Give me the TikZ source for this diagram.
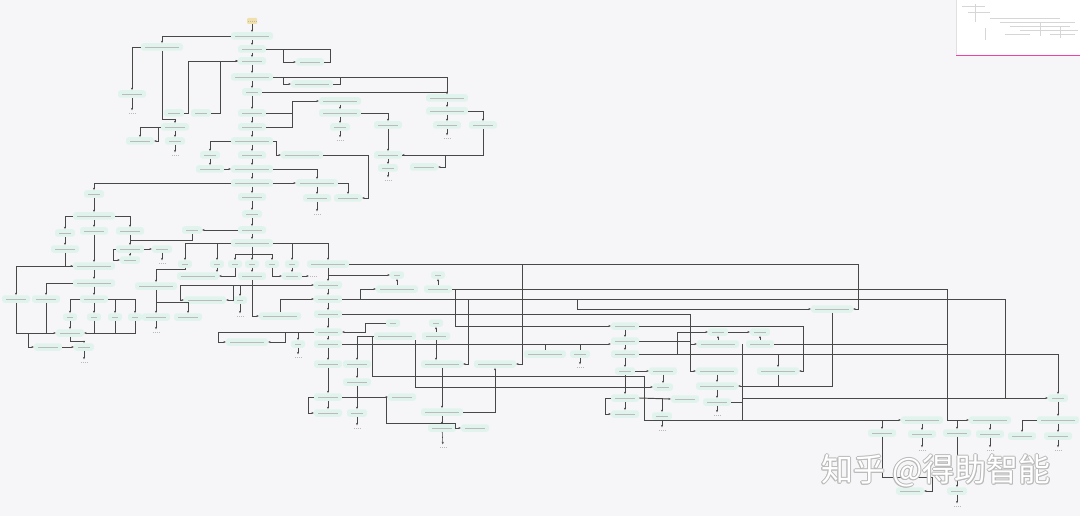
\documentclass[tikz,border=0pt]{standalone}
\usepackage{fontspec}
\newfontfamily\cjkfont{Noto Sans CJK SC}
\usetikzlibrary{arrows.meta}
\definecolor{bgc}{RGB}{246,246,248}
\definecolor{mint}{RGB}{224,244,237}
\definecolor{lnc}{RGB}{72,72,72}
\definecolor{stc}{RGB}{242,224,170}
\begin{document}
\begin{tikzpicture}[x=1pt,y=-1pt,
  txt/.style={draw=black!27, line width=0.95pt, dash pattern=on 1.5pt off 0.5pt},
  nbox/.style={rounded corners=2.5pt, fill=mint, minimum height=7.5pt, minimum width=28pt, inner sep=0pt,
    path picture={\draw[txt] ([xshift=4pt]path picture bounding box.west) -- ([xshift=-4pt]path picture bounding box.east);}},
  nwide/.style={nbox, minimum width=42pt},
  nsmall/.style={nbox, minimum width=20pt},
  ntiny/.style={nbox, minimum width=14pt},
  nend/.style={fill=bgc, minimum width=8pt, minimum height=5pt, inner sep=0pt,
    path picture={\draw[txt] ([xshift=0.8pt]path picture bounding box.west) -- ([xshift=-0.8pt]path picture bounding box.east);}},
  nstart/.style={nend, fill=stc, rounded corners=1pt, minimum width=10pt, minimum height=6pt},
  ln/.style={draw=lnc, line width=0.55pt, -{Stealth[length=2.4pt,width=2pt]}},
  lk/.style={draw=lnc, line width=0.55pt},
  th/.style={line width=0.95pt},
  wm/.style={anchor=west, inner sep=0pt, font=\cjkfont\fontsize{32}{32}\selectfont}
]
\useasboundingbox (0,0) rectangle (1080,516);
\fill[bgc] (0,0) rectangle (1080,516);

% ---------- minimap ----------
\fill[white] (956,0) rectangle (1080,55);
\draw[black!12] (956,0) -- (956,55);
\draw[magenta!75, line width=1.6pt] (956,55.5) -- (1080,55.5);
\begin{scope}[black!16, line width=0.35pt]
\draw (962,6) -- (985,6) (968,12) -- (990,12) (975,4) -- (975,22) (990,18) -- (1060,18)
      (1000,22) -- (1075,22) (1010,26) -- (1070,26) (1020,30) -- (1078,30) (1040,22) -- (1040,36)
      (1005,34) -- (1030,34) (1050,34) -- (1075,34) (985,28) -- (985,40) (1060,26) -- (1060,38);
\end{scope}

% ---------- spine ----------
\node[nstart] (s0) at (252,21) {};
\node[nwide] (n1) at (252,36) {};
\node[nbox] (n2) at (252,49) {};
\node[nbox] (n3) at (252,61) {};
\node[nwide] (n4) at (252,77) {};
\node[nsmall] (n5) at (252,92) {};
\node[nbox] (n6) at (252,113) {};
\node[nbox] (n7) at (252,127) {};
\node[nwide] (n8) at (252,141) {};
\node[nbox] (n9) at (252,155) {};
\node[nwide] (n10) at (252,169) {};
\node[nwide] (n11) at (252,183) {};
\node[nbox] (n12) at (252,197) {};
\node[nsmall] (n13) at (252,214) {};
\node[nbox] (n14) at (252,230) {};
\node[nwide] (n15) at (252,243) {};

% ---------- top left ----------
\node[nwide] (K1) at (162,47) {};
\node[nbox] (K2) at (132,94) {};
\node[nend] (K3) at (132,113) {};
\node[nsmall] (L2a) at (174,113) {};
\node[nsmall] (L2b) at (201,113) {};
\node[nbox] (L3) at (175,127) {};
\node[nsmall] (L4) at (175,141) {};
\node[nend] (L5) at (175,155) {};
\node[nbox] (Pa) at (140,141) {};

% ---------- top right ----------
\node[nbox] (R1) at (310,62) {};
\node[nwide] (R2) at (312,84) {};
\node[nwide] (T1) at (447,98) {};
\node[nwide] (T2) at (447,111) {};
\node[nbox] (T3) at (447,125) {};
\node[nend] (T4) at (447,138) {};
\node[nbox] (T5) at (483,125) {};
\node[nwide] (S1) at (340,101) {};
\node[nwide] (S2) at (340,113) {};
\node[nsmall] (S3) at (340,127) {};
\node[nend] (S4) at (340,140) {};
\node[nbox] (S5) at (388,125) {};
\node[nbox] (U1) at (388,155) {};
\node[nsmall] (U2) at (388,168) {};
\node[nend] (U3) at (388,180) {};
\node[nbox] (U4) at (424,167) {};
\node[nsmall] (V1) at (210,155) {};
\node[nbox] (V2) at (210,169) {};
\node[nwide] (W1) at (302,155) {};
\node[nwide] (X1) at (317,183) {};
\node[nbox] (X2) at (348,198) {};
\node[nbox] (X3) at (317,198) {};
\node[nend] (X4) at (317,214) {};

% ---------- middle left ----------
\node[nsmall] (Y1) at (94,194) {};
\node[nwide] (Y2) at (94,216) {};
\node[nsmall] (Y3) at (65,233) {};
\node[nbox] (Y4) at (65,249) {};
\node[nbox] (Y5) at (94,231) {};
\node[nbox] (Y6) at (130,231) {};
\node[nbox] (Y7) at (130,249) {};
\node[nsmall] (Y8) at (130,260) {};
\node[nsmall] (Y9) at (162,249) {};
\node[nend] (Y10) at (162,263) {};
\node[nsmall] (Z1) at (192,230) {};

\node[ntiny] (a1) at (185,264) {};
\node[ntiny] (a2) at (217,264) {};
\node[ntiny] (a4) at (235,264) {};
\node[ntiny] (a5) at (252,264) {};
\node[ntiny] (a6) at (272,264) {};
\node[ntiny] (a7) at (292,264) {};
\node[nwide] (c1) at (198,276) {};
\node[nbox] (c2) at (252,276) {};
\node[nsmall] (c3) at (292,276) {};
\node[nend] (c4) at (313,276) {};
\node[nwide] (d1) at (156,286) {};
\node[nbox] (d2) at (156,317) {};
\node[nbox] (d4) at (188,317) {};
\node[nend] (d3) at (156,332) {};
\node[nwide] (g1) at (205,300) {};
\node[ntiny] (g2) at (240,300) {};
\node[nend] (g2b) at (240,316) {};
\node[nwide] (g3) at (280,316) {};
\node[nwide] (h1) at (247,342) {};
\node[ntiny] (h2) at (298,344) {};
\node[nend] (h3) at (298,357) {};

\node[nwide] (e1) at (94,266) {};
\node[nwide] (e2) at (94,283) {};
\node[nbox] (e3) at (94,299) {};
\node[ntiny] (e4) at (94,317) {};
\node[nbox] (e5) at (16,299) {};
\node[nbox] (e6) at (46,299) {};
\node[ntiny] (e7) at (70,317) {};
\node[ntiny] (e8) at (115,317) {};
\node[ntiny] (e9) at (135,317) {};
\node[nbox] (f1) at (70,333) {};
\node[nsmall] (f2) at (84,347) {};
\node[nend] (f3) at (84,362) {};
\node[nbox] (f4) at (48,347) {};

% ---------- b column ----------
\node[nwide] (b1) at (328,264) {};
\node[nbox] (b2) at (328,285) {};
\node[nbox] (b3) at (328,299) {};
\node[nbox] (b4) at (328,314) {};
\node[nbox] (b5) at (328,332) {};
\node[nbox] (b6) at (328,344) {};
\node[nbox] (b7) at (328,364) {};
\node[nbox] (l1) at (328,397) {};
\node[nbox] (l3) at (328,413) {};
\node[ntiny] (i1) at (397,275) {};
\node[ntiny] (i2) at (438,275) {};
\node[nwide] (i3) at (397,289) {};
\node[nbox] (i4) at (438,289) {};
\node[ntiny] (j1) at (393,323) {};
\node[ntiny] (j2) at (436,323) {};
\node[nwide] (j3) at (395,336) {};
\node[nbox] (j4) at (436,336) {};
\node[nbox] (k1) at (357,364) {};
\node[nwide] (k2) at (442,364) {};
\node[nwide] (k3) at (495,364) {};
\node[nbox] (k4) at (357,382) {};
\node[nbox] (l2) at (402,397) {};
\node[nsmall] (l4) at (357,413) {};
\node[nend] (l5) at (357,428) {};
\node[nwide] (k5) at (442,412) {};
\node[nbox] (k6) at (442,428) {};
\node[nbox] (k7) at (475,428) {};
\node[nend] (k8) at (443,447) {};

% ---------- right ----------
\node[nwide] (q1) at (832,309) {};
\node[nbox] (m1) at (625,326) {};
\node[nbox] (m2) at (625,341) {};
\node[nbox] (m3) at (625,354) {};
\node[nsmall] (m4) at (625,371) {};
\node[nbox] (m5) at (625,398) {};
\node[nbox] (m6) at (625,414) {};
\node[nwide] (o1) at (545,354) {};
\node[nsmall] (o2) at (580,354) {};
\node[nend] (o3) at (580,367) {};
\node[nsmall] (p1) at (718,332) {};
\node[nsmall] (p2) at (760,332) {};
\node[nwide] (p3) at (718,344) {};
\node[nbox] (p4) at (760,344) {};
\node[nbox] (p5) at (663,371) {};
\node[nwide] (p6) at (717,371) {};
\node[nwide] (p7) at (778,371) {};
\node[nsmall] (p8) at (663,387) {};
\node[nwide] (p9) at (717,386) {};
\node[nbox] (p10) at (685,399) {};
\node[nbox] (p11) at (717,402) {};
\node[nend] (p12) at (717,415) {};
\node[nsmall] (p13) at (662,416) {};
\node[nend] (p14) at (662,430) {};

\node[nsmall] (r0) at (1058,398) {};
\node[nwide] (r1) at (1058,420) {};
\node[nbox] (r2) at (1058,436) {};
\node[nend] (r3) at (1058,450) {};
\node[nwide] (s1) at (922,420) {};
\node[nwide] (s2) at (990,420) {};
\node[nbox] (t1) at (882,433) {};
\node[nbox] (t2) at (922,434) {};
\node[nbox] (t3) at (957,433) {};
\node[nbox] (t4) at (990,434) {};
\node[nbox] (t5) at (1022,436) {};
\node[nend] (ea) at (922,450) {};
\node[nend] (eb) at (990,450) {};
\node[nbox] (u1) at (910,491) {};
\node[nsmall] (u2) at (957,491) {};
\node[nend] (u2e) at (957,506) {};

% ---------- straight vertical links ----------
\foreach \a/\b in {s0/n1,n1/n2,n2/n3,n3/n4,n4/n5,n5/n6,n6/n7,n7/n8,n8/n9,n9/n10,n10/n11,n11/n12,n12/n13,n13/n14,n14/n15,
  K2/K3,L3/L4,L4/L5,T1/T2,T2/T3,T3/T4,S1/S2,S2/S3,S3/S4,S5/U1,U1/U2,U2/U3,V1/V2,X1/X3,X3/X4,
  Y1/Y2,Y2/Y5,Y5/e1,e1/e2,e2/e3,e3/e4,Y3/Y4,Y6/Y7,Y7/Y8,Y9/Y10,d1/d2,d2/d3,a5/c2,a7/c3,f2/f3,g2/g2b,h2/h3,e7/f1,
  b1/b2,b2/b3,b3/b4,b4/b5,b5/b6,b6/b7,b7/l1,l1/l3,i3/i1,i4/i2,j4/j2,k1/k4,k4/l4,l4/l5,k2/k5,k5/k6,k6/k8,
  m1/m2,m2/m3,m3/m4,m4/m5,m5/m6,o2/o3,p3/p1,p4/p2,p5/p8,p6/p9,p9/p11,p11/p12,p13/p14,
  r0/r1,r1/r2,r2/r3,s1/t2,t2/ea,s2/t4,t4/eb,t3/u2,u2/u2e}
  \draw[ln] (\a) -- (\b);

% ---------- top area ----------
\draw[ln] (n1.west) -| (K1.north);
\draw[ln] (K1.south) -- (162,119) -| (L3.north);
\draw[ln] (K1.west) -| (K2.north);
\draw[ln] (L2a.east) -- (188,113) |- (n3.west);
\draw[ln] (L2b.east) -- (220,113) |- (n3.west);
\draw[ln] (L3.west) -| (Pa.north);
\draw[ln] (158,127) |- (Pa.east);
\draw[ln] (n2.east) -- (283,49) |- (R1.west);
\draw[lk] (R1.east) -- (330,62) -- (330,49) -- (283,49);
\draw[ln] (n4.east) -| (T1.north);
\draw[ln] (n5.east) -| (T1.north);
\draw[ln] (283,77) |- (R2.west);
\draw[lk] (R2.east) -- (340,84) -- (340,77);
\draw[ln] (n6.east) -- (292,113) |- (S1.west);
\draw[lk] (n7.east) -| (292,113);
\draw[ln] (S2.east) -| (S5.north);
\draw[ln] (T2.east) -| (T5.north);
\draw[ln] (T5.south) |- (U1.east);
\draw[ln,th] (U1.east) -- (445,155) |- (U4.east);
\draw[ln] (n8.west) -| (V1.north);
\draw[ln] (n8.east) -- (276,141) |- (W1.west);
\draw[ln] (V2.east) -- (n10.west);
\draw[ln] (W1.east) -- (368,155) |- (X2.east);
\draw[ln] (n10.east) -| (X1.north);
\draw[ln] (X1.east) -| (X2.north);
\draw[ln] (n11.east) -- (X1.west);
\draw[ln] (n11.west) -| (Y1.north);

% ---------- middle left ----------
\draw[ln] (Y2.west) -| (Y3.north);
\draw[ln] (Y2.east) -| (Y6.north);
\draw[ln,th] (Y4.south) |- (e1.west);
\draw[ln] (Y7.east) -- (Y9.west);
\draw[ln] (Y7.west) -- (113,249) |- (Y8.west);
\draw[ln] (n14.west) -- (Z1.east);
\draw[lk] (Z1.south) |- (130,240);

\draw[ln] (n15.west) -| (a1.north);
\draw[ln] (217,243) -- (a2.north);
\draw[ln] (n15.east) -| (b1.north);
\draw[ln] (292,243) -- (a7.north);
\draw[lk] (n15.south) -- (252,254);
\draw[lk] (235,254) -- (272,254);
\draw[ln] (235,254) -- (a4.north);
\draw[ln] (252,254) -- (a5.north);
\draw[ln] (272,254) -- (a6.north);
\draw[ln,th] (a4.south) |- (c1.east);
\draw[ln] (a2.south) -- (a2.south |- c1.north);
\draw[ln,th] (a6.south) |- (c3.west);
\draw[ln] (c3.east) -- (c4.west);
\draw[ln] (a1.south) -- (185,269) -| (d1.north);
\draw[ln] (156,302) -| (d4.north);
\draw[ln,th] (c2.south) |- (b2.west);
\draw[ln] (252,285) -| (180,300) -- (g1.west);
\draw[ln] (233,285) |- (g1.east);
\draw[ln] (240,285) -- (g2.north);
\draw[ln] (252,285) |- (g3.west);
\draw[ln] (g3.north) |- (b3.west);
\draw[ln,th] (b5.west) -- (218,332) |- (h1.west);
\draw[ln] (285,332) |- (h1.east);
\draw[ln] (298,332) -- (h2.north);

\draw[ln] (e1.west) -| (e5.north);
\draw[ln] (e5.south) |- (f1.west);
\draw[ln] (e2.west) -| (e6.north);
\draw[lk] (e6.south) -- (46,333);
\draw[ln] (e3.west) -| (e7.north);
\draw[ln] (e3.east) -| (e9.north);
\draw[ln] (115,299) -- (e8.north);
\draw[ln,th] (e9.south) |- (f1.east);
\draw[lk] (e8.south) -- (115,333);
\draw[lk] (e4.south) -- (94,333);
\draw[ln,th] (f1.south) -- (70,341) -| (f2.north);
\draw[ln] (28,333) |- (f4.west);
\draw[ln,th] (f4.east) -- (f2.west);

% ---------- b column fan ----------
\draw[ln] (328,275) -- (i1.west);
\draw[ln] (360,299) |- (i3.west);
\draw[ln] (i4.east) -- (947,289) |- (s2.west);
\draw[lk,th] (b3.east) -- (577,299);
\draw[lk] (577,299) -- (1005,299) -- (1005,398);
\draw[ln] (b4.east) -- (690,314) |- (p6.west);
\draw[ln] (j1.west) -- (365,323) |- (b5.east);
\draw[ln] (j3.west) -| (k1.north);
\draw[ln] (372,336) |- (644,376) -- (644,420) -- (s1.west);
\draw[ln] (415,340) |- (p8.west);
\draw[ln] (j4.south) -- (j4.south |- k2.north);
\draw[ln] (l1.east) -- (l2.west);
\draw[ln] (l1.west) -- (308,397) |- (l3.west);
\draw[ln] (386,397) |- (455,423) |- (k7.west);
\draw[ln] (k5.east) -| (k3.south);
\draw[ln] (522,264) |- (k3.east);
\draw[ln] (468,299) |- (k2.east);
\draw[ln] (455,289) |- (m1.west);

% ---------- right area ----------
\draw[ln] (b1.east) -- (858,264) |- (q1.east);
\draw[ln] (577,299) |- (q1.west);
\draw[ln] (m1.east) -- (803,326) |- (p7.east);
\draw[lk,th] (m2.east) -- (690,341);
\draw[ln] (690,344) -- (p3.west);
\draw[ln,th] (b6.east) -- (b6.east -| m2.west);
\draw[lk] (o1.north) -- (545,344);
\draw[lk] (o2.north) -- (580,344);
\draw[ln,th] (m3.east) -- (1058,354) -- (r0.north);
\draw[ln] (677,354) |- (p1.west);
\draw[ln] (p1.east) -- (p2.west);
\draw[lk] (p4.east) -- (947,344);
\draw[ln] (778,354) -- (p7.north);
\draw[ln] (q1.south) |- (p9.east);
\draw[lk] (p7.south) -- (778,386);
\draw[ln] (m4.east) -- (p5.west);
\draw[ln,th] (m5.east) -- (p10.west);
\draw[ln] (662,398) -- (p13.north);
\draw[ln] (m5.west) -- (605,398) |- (m6.west);
\draw[ln] (p11.east) -| (742,398) -- (r0.west);
\draw[lk] (742,344) -- (742,420);
\draw[ln] (882,420) -- (t1.north);
\draw[ln] (957,420) -- (t3.north);
\draw[ln] (t1.south) |- (932,477) |- (u1.east);
\draw[ln] (r1.west) -| (t5.north);

% ---------- watermark ----------
\foreach \dx/\dy [count=\i] in {-0.8/0,0.8/0,0/-0.8,0/0.8,-0.6/-0.6,0.6/0.6,-0.6/0.6,0.6/-0.6}
  \node[wm, text=black!27] (wmo\i) at (821+\dx,471+\dy) {知乎 @得助智能};
\node[wm, text=white] (wmt) at (821,471) {知乎 @得助智能};
\end{tikzpicture}
\end{document}
